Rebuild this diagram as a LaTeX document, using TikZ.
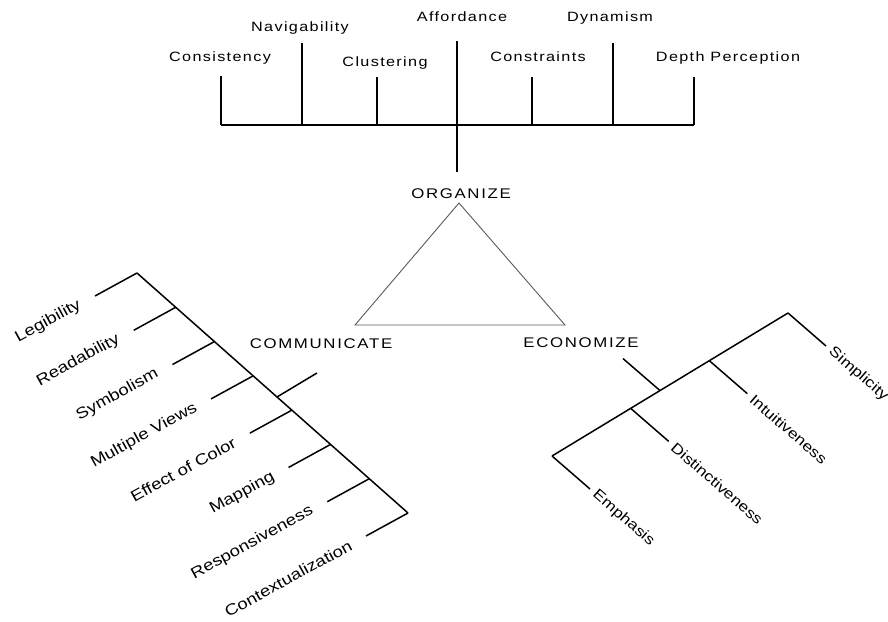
\documentclass[tikz,border=0pt]{standalone}
\usepackage{fontspec}
\setmainfont{Liberation Sans}
\newfontfamily\headfont{Liberation Sans}[FakeStretch=1.2,LetterSpace=10]
\newfontfamily\capsfont{Liberation Sans}[FakeStretch=1.2,LetterSpace=12]
\newfontfamily\tiltfont{Liberation Sans}[FakeStretch=1.2]
\usetikzlibrary{calc}
\begin{document}
\begin{tikzpicture}[x=1pt,y=-1pt,
  branch/.style={line width=1.5pt,draw=black},
  tri/.style={line width=0.9pt,draw=black!65,line join=miter},
  toplabel/.style={font=\headfont\fontsize{13.5}{16}\selectfont,inner sep=0pt,anchor=base},
  corner/.style={font=\capsfont\fontsize{14}{16}\selectfont,inner sep=0pt,anchor=base},
  leftlabel/.style={font=\tiltfont\fontsize{15.5}{18}\selectfont,inner sep=0pt,anchor=east,rotate=28.7},
  rightlabel/.style={font=\tiltfont\fontsize{14.5}{17}\selectfont,inner sep=0pt,anchor=west,rotate=-41},
]
\useasboundingbox (0,0) rectangle (888,621);

% ---- top tree: ORGANIZE ----
\coordinate (barL) at (221,125);
\coordinate (barR) at (694,125);
\coordinate (stem) at (457,172);
\draw[branch] (barL) -- (barR);

\coordinate (tConsistency)  at (221,76);
\coordinate (tNavigability) at (302,43);
\coordinate (tClustering)   at (377,77);
\coordinate (tAffordance)   at (457,41);
\coordinate (tConstraints)  at (532,77);
\coordinate (tDynamism)     at (613,43);
\coordinate (tDepth)        at (694,77);

\draw[branch] (tConsistency)  -- (tConsistency |- barL);
\draw[branch] (tNavigability) -- (tNavigability |- barL);
\draw[branch] (tClustering)   -- (tClustering |- barL);
\draw[branch] (tAffordance)   -- (stem);
\draw[branch] (tConstraints)  -- (tConstraints |- barL);
\draw[branch] (tDynamism)     -- (tDynamism |- barL);
\draw[branch] (tDepth)        -- (tDepth |- barL);

\node[toplabel] (consistency)  at (220,61.5) {Consistency};
\node[toplabel] (navigability) at (300,31.5) {Navigability};
\node[toplabel] (clustering)   at (385,66)   {Clustering};
\node[toplabel] (affordance)   at (462,21.5) {Affordance};
\node[toplabel] (constraints)  at (538,61.5) {Constraints};
\node[toplabel] (dynamism)     at (610,21.5) {Dynamism};
\node[toplabel] (depth)        at (728,61.5) {Depth Perception};

% ---- central triangle ----
\coordinate (vO) at (459,203);
\coordinate (vC) at (355,325);
\coordinate (vE) at (565,325);
\draw[tri] (vO) -- (vC) -- (vE) -- cycle;

\node[corner] (organize)    at (461,198) {ORGANIZE};
\node[corner] (communicate) at (321,348) {COMMUNICATE};
\node[corner] (economize)   at (581,347) {ECONOMIZE};

% ---- left tree: COMMUNICATE ----
\coordinate (Ls) at (137,273);
\coordinate (Le) at (408,513);
\draw[branch] (Ls) -- (Le);
\foreach \lbl [count=\i from 0] in {Legibility,Readability,Symbolism,Multiple Views,Effect of Color,Mapping,Responsiveness,Contextualization}{
  \coordinate (La\i) at ($(Ls)!\i/7!(Le)$);
  \coordinate (Lb\i) at ($(La\i)+(-42,23)$);
  \draw[branch] (La\i) -- (Lb\i);
  \node[leftlabel] (Lt\i) at ($(Lb\i)!-17pt!(La\i)$) {\lbl};
}
\coordinate (Lc) at ($(Ls)!0.5166!(Le)$);
\draw[branch] (Lc) -- ++(40,-24);

% ---- right tree: ECONOMIZE ----
\coordinate (Rs) at (552,456);
\coordinate (Re) at (788,313);
\draw[branch] (Rs) -- (Re);
\foreach \lbl [count=\i from 0] in {Emphasis,Distinctiveness,Intuitiveness,Simplicity}{
  \coordinate (Ra\i) at ($(Rs)!\i/3!(Re)$);
  \coordinate (Rb\i) at ($(Ra\i)+(38,33)$);
  \draw[branch] (Ra\i) -- (Rb\i);
  \node[rightlabel] (Rt\i) at ($(Rb\i)!-6pt!(Ra\i)$) {\lbl};
}
\coordinate (Rc) at ($(Rs)!0.4576!(Re)$);
\draw[branch] (Rc) -- ++(-37,-32);
\end{tikzpicture}
\end{document}
